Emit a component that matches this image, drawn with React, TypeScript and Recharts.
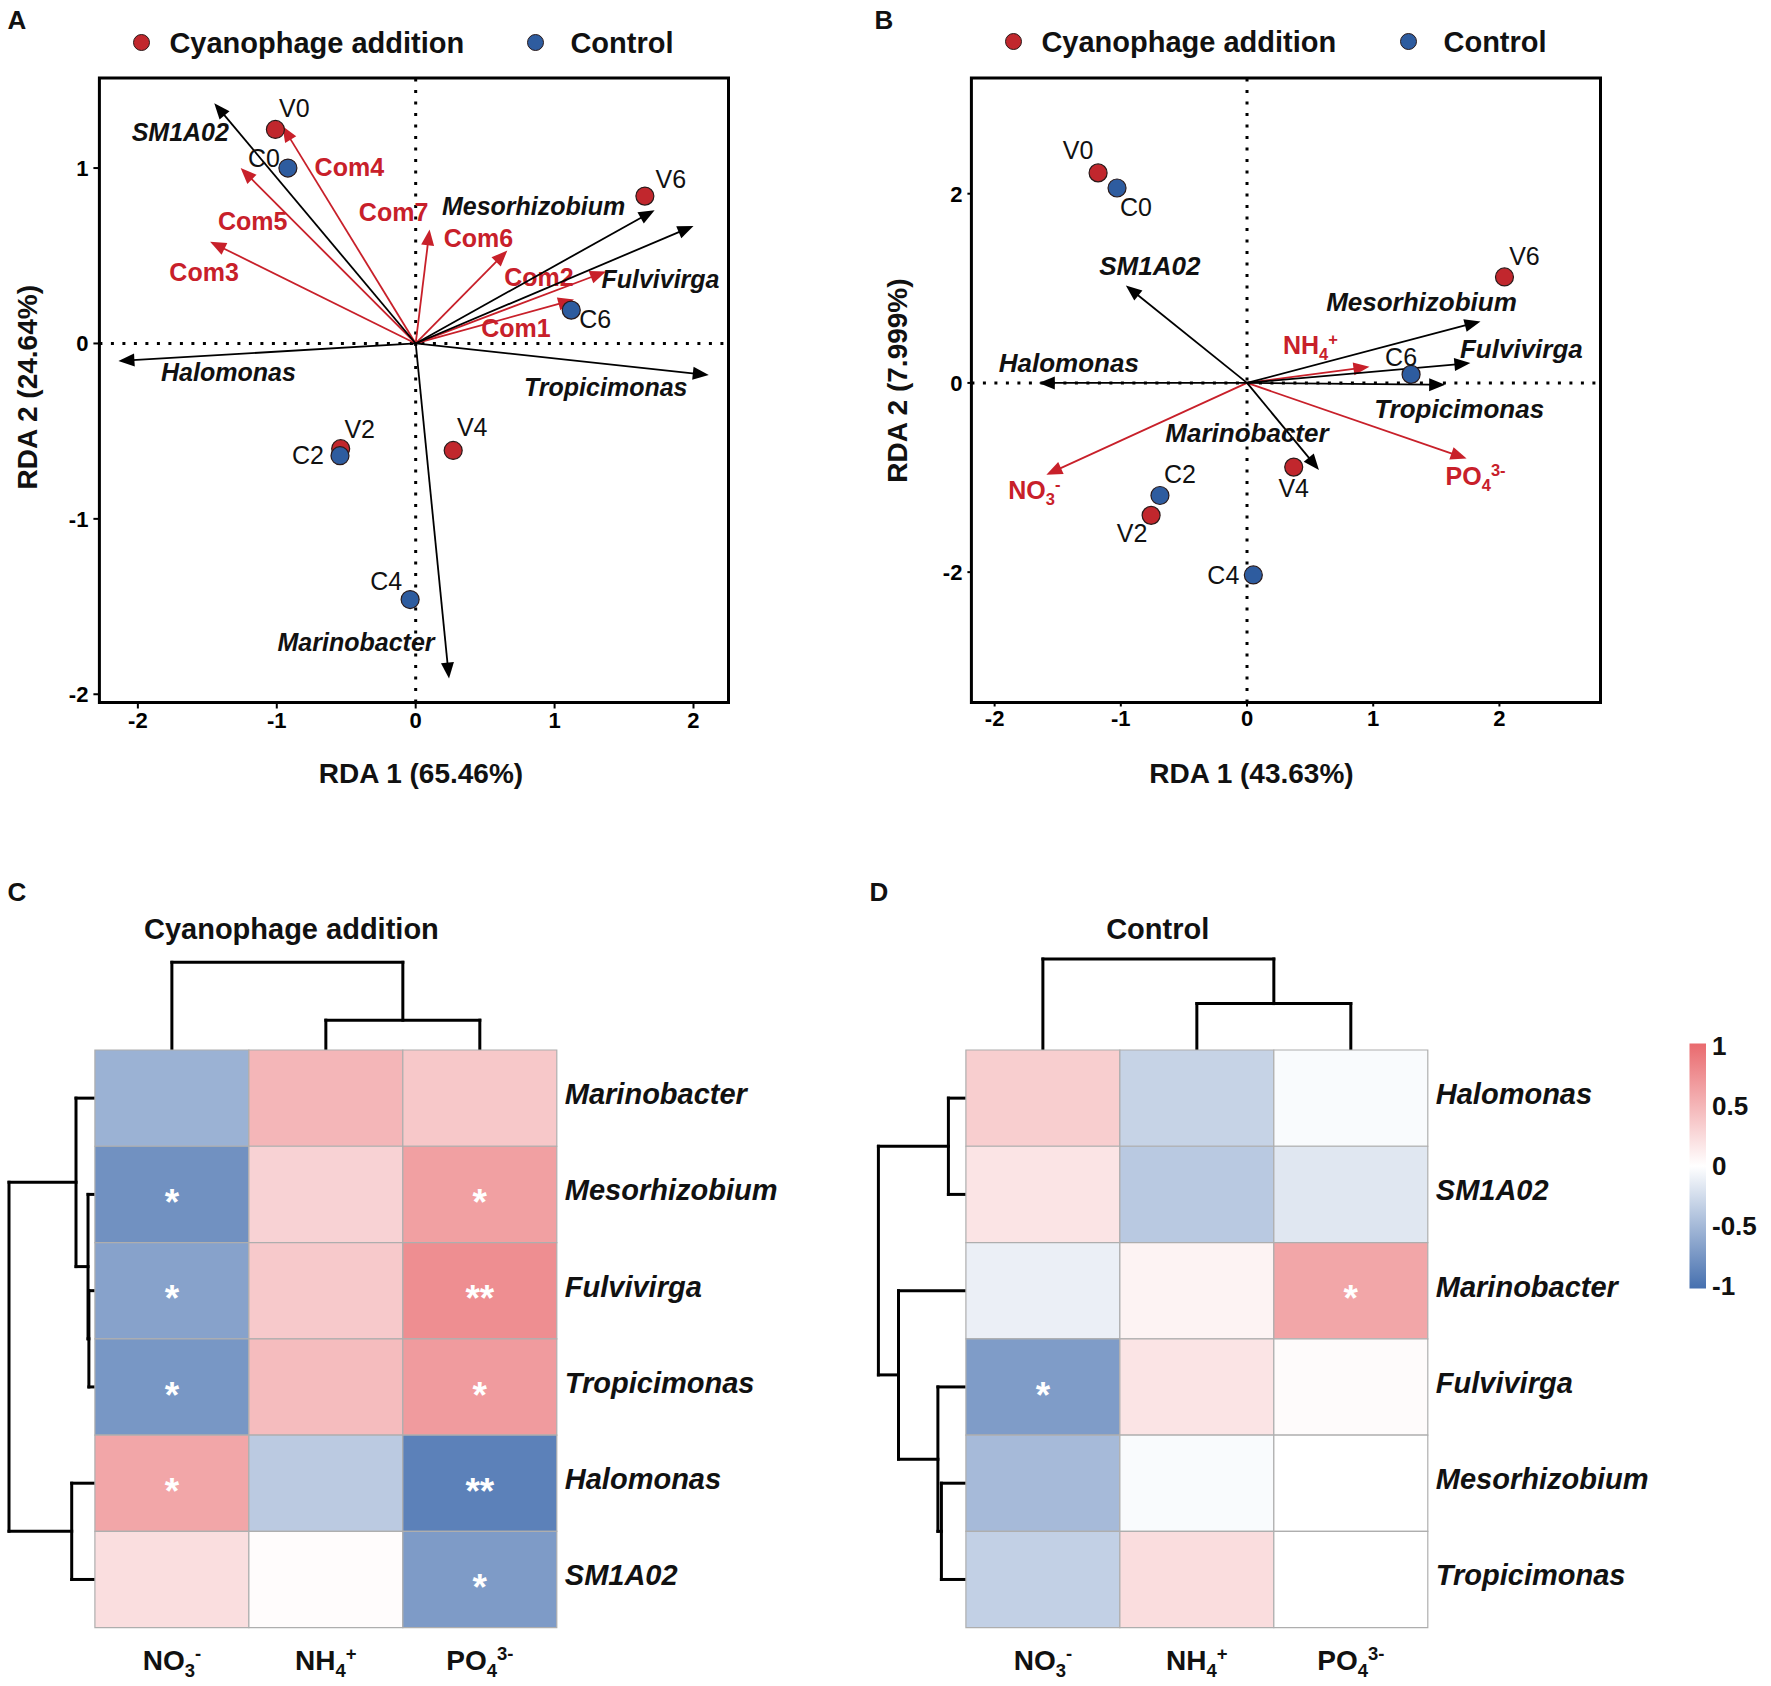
import React from 'react';
import { ScatterChart, Scatter, XAxis, YAxis, ReferenceLine, ReferenceArea, Label } from 'recharts';

const FONT = 'Arial, "Liberation Sans", Helvetica, sans-serif';
const RED_PT = '#C1272D';
const BLUE_PT = '#2E5C9F';
const ARROW_RED = '#C8202A';

// ---- sample / variable names
const phageSamples = ['V0', 'V2', 'V4', 'V6'];
const controlSamples = ['C0', 'C2', 'C4', 'C6'];
const genera = ['SM1A02', 'Mesorhizobium', 'Fulvivirga', 'Halomonas', 'Tropicimonas', 'Marinobacter'];
const modules = ['Com1', 'Com2', 'Com3', 'Com4', 'Com5', 'Com6', 'Com7'];
const nutrients = ['NO3-', 'NH4+', 'PO43-'];

// ---- panel A (RDA 1 65.46%, RDA 2 24.64%)
const aPhageX = [-1.01, -0.54, 0.27, 1.65];
const aPhageY = [1.22, -0.6, -0.61, 0.84];
const aControlX = [-0.92, -0.545, -0.04, 1.12];
const aControlY = [1.0, -0.64, -1.46, 0.19];
const aGenusX = [-1.45, 1.72, 2.0, -2.14, 2.11, 0.24];
const aGenusY = [1.37, 0.76, 0.67, -0.1, -0.18, -1.91];
const aModuleX = [1.14, 1.37, -1.48, -0.96, -1.26, 0.66, 0.1];
const aModuleY = [0.25, 0.41, 0.58, 1.24, 1.0, 0.53, 0.65];
const aXTicks = [-2, -1, 0, 1, 2];
const aYTicks = [-2, -1, 0, 1];

// ---- panel B (RDA 1 43.63%, RDA 2 7.999%)
const bPhageX = [-1.18, -0.76, 0.37, 2.04];
const bPhageY = [2.22, -1.4, -0.89, 1.12];
const bControlX = [-1.03, -0.69, 0.05, 1.3];
const bControlY = [2.06, -1.19, -2.03, 0.09];
const bGenusX = [-0.96, 1.85, 1.77, -1.65, 1.57, 0.57];
const bGenusY = [1.03, 0.65, 0.21, 0.0, -0.02, -0.92];
const bNutrientX = [-1.59, 0.97, 1.74];
const bNutrientY = [-0.97, 0.17, -0.8];
const bXTicks = [-2, -1, 0, 1, 2];
const bYTicks = [-2, 0, 2];

// ---- panel C heatmap (cyanophage addition)
const cRows = ['Marinobacter', 'Mesorhizobium', 'Fulvivirga', 'Tropicimonas', 'Halomonas', 'SM1A02'];
const cNO3 = [-0.54, -0.77, -0.65, -0.73, 0.6, 0.22];
const cNH4 = [0.49, 0.3, 0.36, 0.45, -0.37, 0.02];
const cPO4 = [0.37, 0.64, 0.76, 0.67, -0.88, -0.7];
const cSigNO3 = ['', '*', '*', '*', '*', ''];
const cSigNH4 = ['', '', '', '', '', ''];
const cSigPO4 = ['', '*', '**', '*', '**', '*'];

// ---- panel D heatmap (control)
const dRows = ['Halomonas', 'SM1A02', 'Marinobacter', 'Fulvivirga', 'Mesorhizobium', 'Tropicimonas'];
const dNO3 = [0.33, 0.18, -0.11, -0.69, -0.48, -0.33];
const dNH4 = [-0.31, -0.38, 0.08, 0.18, -0.03, 0.23];
const dPO4 = [-0.03, -0.17, 0.6, 0.03, 0.0, 0.0];
const dSigNO3 = ['', '', '', '*', '', ''];
const dSigNH4 = ['', '', '', '', '', ''];
const dSigPO4 = ['', '', '*', '', '', ''];

const legendTicks = [-1, -0.5, 0, 0.5, 1];

// clustering trees, merge heights relative to the root
type Tree = string | { h: number; l: Tree; r: Tree };
const cRowTree: Tree = {
  h: 1,
  l: { h: 0.22, l: 'Marinobacter', r: { h: 0.08, l: 'Mesorhizobium', r: { h: 0.07, l: 'Fulvivirga', r: 'Tropicimonas' } } },
  r: { h: 0.27, l: 'Halomonas', r: 'SM1A02' },
};
const cColTree: Tree = { h: 1, l: 'NO3-', r: { h: 0.34, l: 'NH4+', r: 'PO43-' } };
const dRowTree: Tree = {
  h: 1,
  l: { h: 0.2, l: 'Halomonas', r: 'SM1A02' },
  r: { h: 0.77, l: 'Marinobacter', r: { h: 0.32, l: 'Fulvivirga', r: { h: 0.28, l: 'Mesorhizobium', r: 'Tropicimonas' } } },
};
const dColTree: Tree = { h: 1, l: 'NO3-', r: { h: 0.51, l: 'NH4+', r: 'PO43-' } };

// ---- label offsets (px from the mark)
type Off = Record<string, [number, number]>;
const aPointOff: Off = { V0: [19, -21], C0: [-24, -10], V2: [19, -20], C2: [-32, -1], V4: [19, -23], C4: [-24, -19], V6: [26, -17], C6: [24, 9] };
const aGenusOff: Off = { SM1A02: [-34, 29], Mesorhizobium: [-121, -4], Fulvivirga: [-33, 53], Halomonas: [110, 11], Tropicimonas: [-103, 12], Marinobacter: [-93, -36] };
const aModuleOff: Off = { Com1: [-58, 28], Com2: [-67, 5], Com3: [-6, 30], Com4: [67, 41], Com5: [12, 53], Com6: [-29, -12], Com7: [-36, -17] };
const bPointOff: Off = { V0: [-20, -23], C0: [19, 19], V2: [-19, 18], C2: [20, -21], V4: [0, 21], C4: [-30, 0], V6: [20, -21], C6: [-10, -17] };
const bGenusOff: Off = { SM1A02: [24, -19], Mesorhizobium: [-59, -19], Fulvivirga: [51, -14], Halomonas: [30, -20], Tropicimonas: [14, 24], Marinobacter: [-72, -37] };
const bNutrientOff: Off = { 'NO3-': [-12, 15], 'NH4+': [-59, -22], 'PO43-': [9, 17] };

const chemParts: Record<string, [string, string, string]> = {
  'NO3-': ['NO', '3', '-'],
  'NH4+': ['NH', '4', '+'],
  'PO43-': ['PO', '4', '3-'],
};

type Pt = { name: string; x: number; y: number };
const zip = (names: string[], xs: number[], ys: number[]): Pt[] => names.map((name, i) => ({ name, x: xs[i], y: ys[i] }));

const RED_END = [233, 106, 110];
const BLUE_END = [70, 112, 175];
function colorFor(v: number) {
  const t = Math.min(1, Math.abs(v));
  const e = v >= 0 ? RED_END : BLUE_END;
  const c = e.map((ch) => Math.round(255 + (ch - 255) * t));
  return `rgb(${c[0]},${c[1]},${c[2]})`;
}

function ChemText({ x, y, name, size, fill }: { x: number; y: number; name: string; size: number; fill: string }) {
  const [base, sub, sup] = chemParts[name];
  const s = size * 0.66;
  return (
    <text x={x} y={y + size * 0.36} textAnchor="middle" fill={fill} fontWeight={700} fontSize={size} fontFamily={FONT}>
      <tspan>{base}</tspan>
      <tspan fontSize={s} dy={size * 0.26}>{sub}</tspan>
      <tspan fontSize={s} dy={-size * 0.62}>{sup}</tspan>
    </text>
  );
}

function makeArrow(color: string, off: [number, number], drawLabel: (x: number, y: number) => React.ReactNode) {
  return (lp: any) => {
    const { x1, y1, x2, y2 } = lp;
    const dx = x2 - x1;
    const dy = y2 - y1;
    const len = Math.hypot(dx, dy) || 1;
    const ux = dx / len;
    const uy = dy / len;
    const hl = 16;
    const hw = 6.5;
    const bx = x2 - ux * hl;
    const by = y2 - uy * hl;
    return (
      <g>
        <line x1={x1} y1={y1} x2={bx + ux * 2} y2={by + uy * 2} stroke={color} strokeWidth={1.8} />
        <polygon points={`${x2},${y2} ${bx - uy * hw},${by + ux * hw} ${bx + uy * hw},${by - ux * hw}`} fill={color} />
        {drawLabel(x2 + off[0], y2 + off[1])}
      </g>
    );
  };
}

const pointShape = (fill: string, off: Off) => (p: any) => {
  const { cx, cy, payload } = p;
  const [ox, oy] = off[payload.name];
  return (
    <g>
      <circle cx={cx} cy={cy} r={9} fill={fill} stroke="#2a1a1a" strokeWidth={1.2} />
      <text x={cx + ox} y={cy + oy} textAnchor="middle" dominantBaseline="central" fontSize={25} fill="#111" fontFamily={FONT}>
        {payload.name}
      </text>
    </g>
  );
};

type RdaProps = {
  left: number;
  width: number;
  mLeft: number;
  mRight: number;
  xDomain: [number, number];
  yDomain: [number, number];
  xTicks: number[];
  yTicks: number[];
  tickSize: number;
  phage: Pt[];
  control: Pt[];
  genus: Pt[];
  factors: Pt[];
  chemFactors: boolean;
  pointOff: Off;
  genusOff: Off;
  factorOff: Off;
  genusSize: number;
  xTitle: string;
  yTitle: string;
  xTitleDx: number;
  yTitleDy: number;
};

function RdaPanel(p: RdaProps) {
  const tickStyle = { fill: '#000', fontSize: 22, fontWeight: 700, fontFamily: FONT };
  return (
    <div style={{ position: 'absolute', left: p.left, top: 0 }}>
      <ScatterChart width={p.width} height={800} margin={{ top: 77.9, right: p.mRight, bottom: 7.5, left: p.mLeft }}>
        <XAxis
          type="number"
          dataKey="x"
          domain={p.xDomain}
          ticks={p.xTicks}
          interval={0}
          allowDataOverflow
          axisLine={false}
          tickLine={{ stroke: '#000', strokeWidth: 2 }}
          tickSize={p.tickSize}
          tickMargin={4}
          height={90}
          tick={tickStyle}
        >
          <Label
            content={(lp: any) => {
              const vb = lp.viewBox;
              return (
                <text x={vb.x + vb.width / 2 + p.xTitleDx} y={vb.y + 71} textAnchor="middle" dominantBaseline="central" fontSize={28} fontWeight={700} fontFamily={FONT} fill="#111">
                  {p.xTitle}
                </text>
              );
            }}
          />
        </XAxis>
        <YAxis
          type="number"
          dataKey="y"
          domain={p.yDomain}
          ticks={p.yTicks}
          interval={0}
          allowDataOverflow
          axisLine={false}
          tickLine={{ stroke: '#000', strokeWidth: 2 }}
          tickSize={p.tickSize}
          tickMargin={5}
          width={40}
          tick={tickStyle}
        >
          <Label
            content={(lp: any) => {
              const vb = lp.viewBox;
              const cy = vb.y + vb.height / 2 + p.yTitleDy;
              return (
                <text x={28} y={cy} transform={`rotate(-90 28 ${cy})`} textAnchor="middle" dominantBaseline="central" fontSize={28} fontWeight={700} fontFamily={FONT} fill="#111">
                  {p.yTitle}
                </text>
              );
            }}
          />
        </YAxis>
        <ReferenceLine x={0} stroke="#000" strokeWidth={3} strokeDasharray="3 8.5" ifOverflow="visible" />
        <ReferenceLine y={0} stroke="#000" strokeWidth={3} strokeDasharray="3 8.5" ifOverflow="visible" />
        {p.factors.map((f) => (
          <ReferenceLine
            key={f.name}
            segment={[{ x: 0, y: 0 }, { x: f.x, y: f.y }]}
            ifOverflow="visible"
            shape={makeArrow(ARROW_RED, p.factorOff[f.name], (x, y) =>
              p.chemFactors ? (
                <ChemText x={x} y={y} name={f.name} size={25} fill={ARROW_RED} />
              ) : (
                <text x={x} y={y} textAnchor="middle" dominantBaseline="central" fontSize={25} fontWeight={700} fill={ARROW_RED} fontFamily={FONT}>
                  {f.name}
                </text>
              )
            )}
          />
        ))}
        {p.genus.map((g) => (
          <ReferenceLine
            key={g.name}
            segment={[{ x: 0, y: 0 }, { x: g.x, y: g.y }]}
            ifOverflow="visible"
            shape={makeArrow('#000', p.genusOff[g.name], (x, y) => (
              <text x={x} y={y} textAnchor="middle" dominantBaseline="central" fontSize={p.genusSize} fontWeight={700} fontStyle="italic" fill="#111" fontFamily={FONT}>
                {g.name}
              </text>
            ))}
          />
        ))}
        <ReferenceArea
          x1={p.xDomain[0]}
          x2={p.xDomain[1]}
          y1={p.yDomain[0]}
          y2={p.yDomain[1]}
          fill="none"
          fillOpacity={0}
          stroke="#000"
          strokeWidth={3}
          ifOverflow="visible"
        />
        <Scatter name="Cyanophage addition" data={p.phage} shape={pointShape(RED_PT, p.pointOff)} isAnimationActive={false} />
        <Scatter name="Control" data={p.control} shape={pointShape(BLUE_PT, p.pointOff)} isAnimationActive={false} />
      </ScatterChart>
    </div>
  );
}

function RdaLegend({ redX, blueX, cy, redText, blueText }: { redX: number; blueX: number; cy: number; redText: number; blueText: number }) {
  const dot = (x: number, fill: string) => (
    <div style={{ position: 'absolute', left: x - 8.5, top: cy - 8.5, width: 17, height: 17, borderRadius: '50%', background: fill, border: '1px solid #2a1a1a', boxSizing: 'border-box' }} />
  );
  const txt = (x: number, s: string) => (
    <div style={{ position: 'absolute', left: x, top: cy, transform: 'translateY(-50%)', fontSize: 29, fontWeight: 700, lineHeight: 1, whiteSpace: 'nowrap', color: '#111' }}>{s}</div>
  );
  return (
    <>
      {dot(redX, RED_PT)}
      {txt(redText, 'Cyanophage addition')}
      {dot(blueX, BLUE_PT)}
      {txt(blueText, 'Control')}
    </>
  );
}

type Seg = { p1: number; h1: number; p2: number; h2: number };
function walk(t: Tree, leaves: string[], segs: Seg[]): { p: number; h: number } {
  if (typeof t === 'string') return { p: leaves.indexOf(t) + 0.5, h: 0 };
  const a = walk(t.l, leaves, segs);
  const b = walk(t.r, leaves, segs);
  segs.push({ p1: a.p, h1: a.h, p2: a.p, h2: t.h });
  segs.push({ p1: b.p, h1: b.h, p2: b.p, h2: t.h });
  segs.push({ p1: a.p, h1: t.h, p2: b.p, h2: t.h });
  return { p: (a.p + b.p) / 2, h: t.h };
}

const HL = 94.9; // heatmap left inside panel wrapper
const HW = 461.9;
const HTOP = 1050;
const HH = 577.6;

type HeatProps = {
  left: number;
  rows: string[];
  no3: number[];
  nh4: number[];
  po4: number[];
  sig: string[][];
  rowTree: Tree;
  colTree: Tree;
  rootX: number;
  colTop: number;
};

function HeatPanel(p: HeatProps) {
  const cols = [p.no3, p.nh4, p.po4];
  const cells = cols.flatMap((vals, c) => vals.map((v, r) => ({ c, r, v })));
  const stars = p.sig.flatMap((s, c) => s.map((mark, r) => ({ x: c + 0.5, y: r + 0.5, mark }))).filter((d) => d.mark);
  const rowSegs: Seg[] = [];
  walk(p.rowTree, p.rows, rowSegs);
  const colSegs: Seg[] = [];
  walk(p.colTree, nutrients, colSegs);
  const rowLeaves = p.rows.map((_, i) => ({ x: 0, y: i + 0.5 }));
  const colLeaves = nutrients.map((_, i) => ({ x: i + 0.5, y: 0 }));
  const none = () => <g />;

  return (
    <div style={{ position: 'absolute', left: p.left, top: 0 }}>
      {/* column dendrogram */}
      <div style={{ position: 'absolute', left: 0, top: 950 }}>
        <ScatterChart width={800} height={HTOP - 950} margin={{ top: p.colTop - 950, right: 800 - HL - HW, bottom: 0, left: HL }}>
          <XAxis type="number" dataKey="x" domain={[0, 3]} hide allowDataOverflow />
          <YAxis type="number" dataKey="y" domain={[0, 1]} hide allowDataOverflow />
          {colSegs.map((s, i) => (
            <ReferenceLine key={i} segment={[{ x: s.p1, y: s.h1 }, { x: s.p2, y: s.h2 }]} stroke="#000" strokeWidth={3} strokeLinecap="square" ifOverflow="visible" />
          ))}
          <Scatter data={colLeaves} shape={none} isAnimationActive={false} />
        </ScatterChart>
      </div>
      {/* row dendrogram */}
      <div style={{ position: 'absolute', left: 0, top: 1040 }}>
        <ScatterChart width={96} height={646} margin={{ top: HTOP - 1040, right: 96 - HL, bottom: 646 - (HTOP - 1040) - HH, left: p.rootX }}>
          <XAxis type="number" dataKey="x" domain={[0, 1]} reversed hide allowDataOverflow />
          <YAxis type="number" dataKey="y" domain={[0, 6]} reversed hide allowDataOverflow />
          {rowSegs.map((s, i) => (
            <ReferenceLine key={i} segment={[{ x: s.h1, y: s.p1 }, { x: s.h2, y: s.p2 }]} stroke="#000" strokeWidth={3} strokeLinecap="square" ifOverflow="visible" />
          ))}
          <Scatter data={rowLeaves} shape={none} isAnimationActive={false} />
        </ScatterChart>
      </div>
      {/* heatmap */}
      <div style={{ position: 'absolute', left: 0, top: 1040 }}>
        <ScatterChart width={800} height={646} margin={{ top: HTOP - 1040, right: 800 - HL - HW - 230, bottom: 646 - (HTOP - 1040) - HH - 55, left: HL }}>
          <XAxis
            type="number"
            dataKey="x"
            domain={[0, 3]}
            ticks={[0.5, 1.5, 2.5]}
            interval={0}
            allowDataOverflow
            axisLine={false}
            tickLine={false}
            tickSize={0}
            tickMargin={0}
            height={55}
            tick={(tp: any) => <ChemText x={tp.x} y={tp.y + 32} name={nutrients[Math.floor(tp.payload.value)]} size={28} fill="#111" />}
          />
          <YAxis
            type="number"
            dataKey="y"
            orientation="right"
            domain={[0, 6]}
            reversed
            ticks={[0.5, 1.5, 2.5, 3.5, 4.5, 5.5]}
            interval={0}
            allowDataOverflow
            axisLine={false}
            tickLine={false}
            tickSize={0}
            tickMargin={0}
            width={230}
            tick={(tp: any) => (
              <text x={tp.x + 8} y={tp.y - 4} dominantBaseline="central" fontSize={29} fontWeight={700} fontStyle="italic" fill="#111" fontFamily={FONT}>
                {p.rows[Math.floor(tp.payload.value)]}
              </text>
            )}
          />
          {cells.map((d) => (
            <ReferenceArea
              key={`${d.c}-${d.r}`}
              x1={d.c}
              x2={d.c + 1}
              y1={d.r}
              y2={d.r + 1}
              fill={colorFor(d.v)}
              fillOpacity={1}
              stroke="#AEAEAE"
              strokeWidth={1.2}
              ifOverflow="visible"
            />
          ))}
          <Scatter
            data={stars}
            isAnimationActive={false}
            shape={(sp: any) => (
              <text x={sp.cx} y={sp.cy + 37 * 0.56} textAnchor="middle" fontSize={37} fontWeight={700} fill="#fff" fontFamily={FONT}>
                {sp.payload.mark}
              </text>
            )}
          />
        </ScatterChart>
      </div>
    </div>
  );
}

function ColorBar() {
  const stops = [1, 0, -1].map((v, i) => <stop key={i} offset={`${i * 50}%`} stopColor={colorFor(v)} />);
  return (
    <div style={{ position: 'absolute', left: 1680, top: 1020 }}>
      <ScatterChart width={91} height={300} margin={{ top: 23.6, right: 0, bottom: 31.6, left: 9.5 }}>
        <defs>
          <linearGradient id="corrScale" x1="0" y1="0" x2="0" y2="1">
            {stops}
          </linearGradient>
        </defs>
        <XAxis type="number" dataKey="x" domain={[0, 1]} hide allowDataOverflow />
        <YAxis
          type="number"
          dataKey="y"
          orientation="right"
          domain={[-1.02, 1.02]}
          ticks={legendTicks}
          interval={0}
          allowDataOverflow
          axisLine={false}
          tickLine={false}
          tickSize={0}
          tickMargin={6}
          width={65}
          tick={{ fill: '#111', fontSize: 26, fontWeight: 700, fontFamily: FONT }}
        />
        <ReferenceArea x1={0} x2={1} y1={-1.02} y2={1.02} fill="url(#corrScale)" fillOpacity={1} stroke="none" ifOverflow="visible" />
        <Scatter data={legendTicks.map((v) => ({ x: 0.5, y: v }))} shape={() => <g />} isAnimationActive={false} />
      </ScatterChart>
    </div>
  );
}

const centered = (x: number, y: number, size: number, text: string) => (
  <div style={{ position: 'absolute', left: x, top: y, transform: 'translate(-50%, -50%)', fontSize: size, fontWeight: 700, lineHeight: 1, whiteSpace: 'nowrap', color: '#111' }}>
    {text}
  </div>
);

export default function App() {
  return (
    <div style={{ position: 'absolute', left: 0, top: 0, width: 1771, height: 1686, background: '#fff', fontFamily: FONT, overflow: 'hidden' }}>
      <RdaPanel
        left={0}
        width={780}
        mLeft={59.4}
        mRight={51.5}
        xDomain={[-2.277, 2.252]}
        yDomain={[-2.047, 1.514]}
        xTicks={aXTicks}
        yTicks={aYTicks}
        tickSize={6}
        phage={zip(phageSamples, aPhageX, aPhageY)}
        control={zip(controlSamples, aControlX, aControlY)}
        genus={zip(genera, aGenusX, aGenusY)}
        factors={zip(modules, aModuleX, aModuleY)}
        chemFactors={false}
        pointOff={aPointOff}
        genusOff={aGenusOff}
        factorOff={aModuleOff}
        genusSize={25}
        xTitle="RDA 1 (65.46%)"
        yTitle="RDA 2 (24.64%)"
        xTitleDx={7}
        yTitleDy={-3}
      />
      <RdaPanel
        left={870}
        width={760}
        mLeft={61.4}
        mRight={29.5}
        xDomain={[-2.184, 2.801]}
        yDomain={[-3.378, 3.224]}
        xTicks={bXTicks}
        yTicks={bYTicks}
        tickSize={4}
        phage={zip(phageSamples, bPhageX, bPhageY)}
        control={zip(controlSamples, bControlX, bControlY)}
        genus={zip(genera, bGenusX, bGenusY)}
        factors={zip(nutrients, bNutrientX, bNutrientY)}
        chemFactors
        pointOff={bPointOff}
        genusOff={bGenusOff}
        factorOff={bNutrientOff}
        genusSize={26}
        xTitle="RDA 1 (43.63%)"
        yTitle="RDA 2 (7.999%)"
        xTitleDx={-34.5}
        yTitleDy={-9.6}
      />
      <RdaLegend redX={141.2} blueX={535.4} cy={42.9} redText={169.4} blueText={570.4} />
      <RdaLegend redX={1013.2} blueX={1408.5} cy={41.8} redText={1041.4} blueText={1443.5} />

      <HeatPanel
        left={0}
        rows={cRows}
        no3={cNO3}
        nh4={cNH4}
        po4={cPO4}
        sig={[cSigNO3, cSigNH4, cSigPO4]}
        rowTree={cRowTree}
        colTree={cColTree}
        rootX={9}
        colTop={962.3}
      />
      <HeatPanel
        left={870.8}
        rows={dRows}
        no3={dNO3}
        nh4={dNH4}
        po4={dPO4}
        sig={[dSigNO3, dSigNH4, dSigPO4]}
        rowTree={dRowTree}
        colTree={dColTree}
        rootX={7.4}
        colTop={959}
      />
      <ColorBar />

      {centered(291.4, 928.5, 29, 'Cyanophage addition')}
      {centered(1157.7, 928.5, 29, 'Control')}
      {centered(17, 20, 26, 'A')}
      {centered(884, 20, 26, 'B')}
      {centered(17, 892, 26, 'C')}
      {centered(879, 892, 26, 'D')}
    </div>
  );
}
